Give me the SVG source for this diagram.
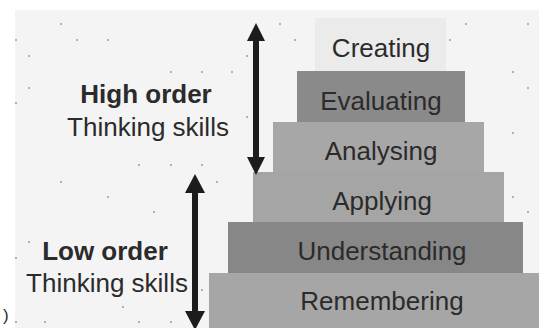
<svg xmlns="http://www.w3.org/2000/svg" width="539" height="328" viewBox="0 0 539 328">
  <style>
    .step-label { font-family: "Liberation Sans", Arial, sans-serif; font-size: 26px; fill: #2b2b2b; text-anchor: middle; }
    .side-title { font-family: "Liberation Sans", Arial, sans-serif; font-size: 26px; font-weight: bold; fill: #2b2b2b; text-anchor: middle; }
    .side-sub { font-family: "Liberation Sans", Arial, sans-serif; font-size: 26px; fill: #2b2b2b; text-anchor: middle; }
    .dot { fill: #9a9a9a; }
    .shaft { stroke: #1c1c1c; stroke-width: 6; fill: none; }
    .head { fill: #1c1c1c; }
  </style>

  <!-- page -->
  <rect x="0" y="0" width="539" height="328" fill="#ffffff"/>
  <rect x="15" y="10" width="524" height="318" fill="#f4f4f4"/>

  <!-- speckled background texture -->
  <g id="speckles">
    <circle class="dot" cx="61" cy="24" r="1"/>
    <circle class="dot" cx="16" cy="40" r="1"/>
    <circle class="dot" cx="77" cy="40" r="1"/>
    <circle class="dot" cx="108" cy="40" r="1"/>
    <circle class="dot" cx="29" cy="56" r="1"/>
    <circle class="dot" cx="171" cy="72" r="1"/>
    <circle class="dot" cx="202" cy="72" r="1"/>
    <circle class="dot" cx="232" cy="72" r="1"/>
    <circle class="dot" cx="29" cy="88" r="1"/>
    <circle class="dot" cx="16" cy="103" r="1"/>
    <circle class="dot" cx="247" cy="56" r="1"/>
    <circle class="dot" cx="247" cy="117" r="1"/>
    <circle class="dot" cx="139" cy="165" r="1"/>
    <circle class="dot" cx="171" cy="165" r="1"/>
    <circle class="dot" cx="202" cy="165" r="1"/>
    <circle class="dot" cx="280" cy="24" r="1"/>
    <circle class="dot" cx="295" cy="40" r="1"/>
    <circle class="dot" cx="450" cy="40" r="1"/>
    <circle class="dot" cx="466" cy="24" r="1"/>
    <circle class="dot" cx="528" cy="24" r="1"/>
    <circle class="dot" cx="513" cy="72" r="1"/>
    <circle class="dot" cx="528" cy="88" r="1"/>
    <circle class="dot" cx="513" cy="133" r="1"/>
    <circle class="dot" cx="61" cy="182" r="1"/>
    <circle class="dot" cx="108" cy="197" r="1"/>
    <circle class="dot" cx="154" cy="212" r="1"/>
    <circle class="dot" cx="217" cy="182" r="1"/>
    <circle class="dot" cx="29" cy="242" r="1"/>
    <circle class="dot" cx="16" cy="258" r="1"/>
    <circle class="dot" cx="202" cy="290" r="1"/>
    <circle class="dot" cx="123" cy="307" r="1"/>
    <circle class="dot" cx="16" cy="322" r="1"/>
    <circle class="dot" cx="45" cy="322" r="1"/>
    <circle class="dot" cx="139" cy="322" r="1"/>
    <circle class="dot" cx="171" cy="322" r="1"/>
    <circle class="dot" cx="513" cy="197" r="1"/>
    <circle class="dot" cx="528" cy="212" r="1"/>
  </g>

  <!-- pyramid steps, top to bottom -->
  <g id="creating">
    <rect x="315" y="18" width="131" height="53" fill="#ebebeb"/>
    <text class="step-label" x="381" y="57">Creating</text>
  </g>
  <g id="evaluating">
    <rect x="297" y="71" width="168" height="51" fill="#8a8a8a"/>
    <text class="step-label" x="381" y="110">Evaluating</text>
  </g>
  <g id="analysing">
    <rect x="273" y="122" width="211" height="50" fill="#a7a7a7"/>
    <text class="step-label" x="381" y="160">Analysing</text>
  </g>
  <g id="applying">
    <rect x="253" y="172" width="251" height="50" fill="#a5a5a5"/>
    <text class="step-label" x="382" y="210">Applying</text>
  </g>
  <g id="understanding">
    <rect x="228" y="222" width="295" height="51" fill="#878787"/>
    <text class="step-label" x="382" y="260">Understanding</text>
  </g>
  <g id="remembering">
    <rect x="209" y="273" width="330" height="55" fill="#a6a6a6"/>
    <text class="step-label" x="382" y="310">Remembering</text>
  </g>

  <!-- side captions -->
  <g id="high-order">
    <text class="side-title" x="146" y="103">High order</text>
    <text class="side-sub" x="148" y="136">Thinking skills</text>
  </g>
  <g id="low-order">
    <text class="side-title" x="105" y="260">Low order</text>
    <text class="side-sub" x="107" y="292">Thinking skills</text>
  </g>

  <!-- double-headed range arrows -->
  <g id="connectors">
    <g id="arrow-high">
      <line class="shaft" x1="256" y1="38" x2="256" y2="160"/>
      <polygon class="head" points="256,23 265,41 247,41"/>
      <polygon class="head" points="256,175 265,157 247,157"/>
    </g>
    <g id="arrow-low">
      <line class="shaft" x1="195" y1="190" x2="195" y2="314"/>
      <polygon class="head" points="195,174 205,193 185,193"/>
      <polygon class="head" points="195,330 205,311 185,311"/>
    </g>
  </g>

  <text x="3" y="321" font-family="Liberation Sans, Arial, sans-serif" font-size="17" fill="#2b2b2b">)</text>
</svg>
